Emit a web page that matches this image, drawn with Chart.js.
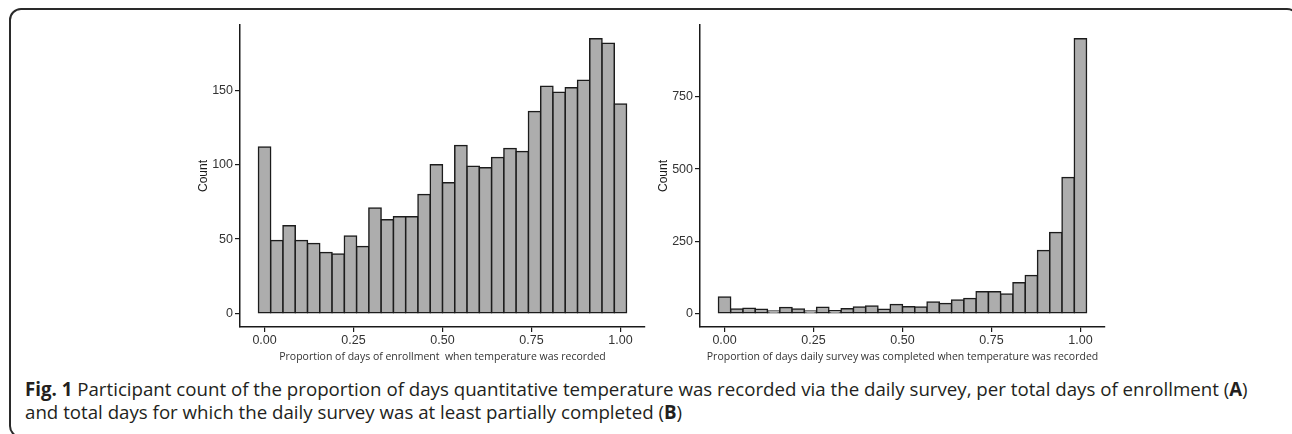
<!DOCTYPE html>
<html>
<head>
<meta charset="utf-8">
<script src="https://cdn.jsdelivr.net/npm/chart.js@4.4.1/dist/chart.umd.min.js"></script>
<style>
  html, body { margin: 0; padding: 0; background: #fff; }
  body { width: 1292px; height: 434px; position: relative; overflow: hidden; }
  .frame {
    position: absolute; left: 9px; top: 8px; width: 1286px; height: 426px;
    border: 2px solid #2a2a2a; border-radius: 12px;
  }
  canvas { position: absolute; top: 0; }
  #chartA { left: 190px; }
  #chartB { left: 650px; }
  .caption {
    position: absolute; left: 25px; top: 377px; width: 1262px;
    font-family: "Open Sans", sans-serif; font-size: 18.7px; line-height: 23px;
    color: #231f20; white-space: nowrap;
  }
  .caption b { font-weight: 700; }
</style>
</head>
<body>
<div class="frame"></div>
<canvas id="chartA" width="470" height="372"></canvas>
<canvas id="chartB" width="470" height="372"></canvas>
<div class="caption">
  <b>Fig. 1</b> Participant count of the proportion of days quantitative temperature was recorded via the daily survey, per total days of enrollment (<b>A</b>)<br>
  and total days for which the daily survey was at least partially completed (<b>B</b>)
</div>
<script>
// bin centres (30 bins, ggplot default) shared by both panels
const binCenters = [
  0.0000, 0.0345, 0.0690, 0.1034, 0.1379, 0.1724, 0.2069, 0.2414, 0.2759, 0.3103,
  0.3448, 0.3793, 0.4138, 0.4483, 0.4828, 0.5172, 0.5517, 0.5862, 0.6207, 0.6552,
  0.6897, 0.7241, 0.7586, 0.7931, 0.8276, 0.8621, 0.8966, 0.9310, 0.9655, 1.0000
];

// panel A: proportion of days of enrollment
const countsA = [
  112, 49, 59, 49, 47, 41, 40, 52, 45, 71,
  63, 65, 65, 80, 100, 88, 113, 99, 98, 105,
  111, 109, 136, 153, 149, 152, 157, 185, 182, 141
];

// panel B: proportion of days daily survey was completed
const countsB = [
  56, 15, 17, 14, 8, 20, 15, 8, 21, 9,
  16, 22, 25, 14, 30, 23, 22, 39, 34, 46,
  51, 75, 75, 67, 106, 131, 218, 280, 471, 952
];

const xTicks = [0, 0.25, 0.5, 0.75, 1];
const yTicksA = [0, 50, 100, 150];
const yTicksB = [0, 250, 500, 750];

const titleA = 'Proportion of days of enrollment  when temperature was recorded';
const titleB = 'Proportion of days daily survey was completed when temperature was recorded';

const tickFont = { family: '"Liberation Sans", Arial, sans-serif', size: 12.5 };
const axisColor = '#1a1a1a';

function makeHistogram(canvasId, counts, yMax, yTicks, xTitle) {
    const ctx = document.getElementById(canvasId).getContext('2d');
    return new Chart(ctx, {
        type: 'bar',
        data: {
            datasets: [{
                data: binCenters.map((x, i) => ({ x: x, y: counts[i] })),
                backgroundColor: '#adadad',
                borderColor: '#1c1c1c',
                borderWidth: 1.5,
                borderSkipped: false,
                inflateAmount: 0.75,
                barPercentage: 1,
                categoryPercentage: 1
            }]
        },
        options: {
            responsive: false,
            animation: false,
            layout: { padding: { left: 6, top: 25, right: 15, bottom: 9 } },
            plugins: {
                legend: { display: false },
                tooltip: { enabled: false }
            },
            scales: {
                x: {
                    type: 'linear',
                    offset: false,
                    min: -0.069,
                    max: 1.069,
                    afterBuildTicks: function (s) { s.ticks = xTicks.map(v => ({ value: v })); },
                    afterFit: function (s) { s.height = 36; },
                    grid: { display: true, drawOnChartArea: false, offset: false, tickLength: 5, color: axisColor, lineWidth: 1.2 },
                    border: { display: true, color: axisColor, width: 1.5 },
                    ticks: {
                        callback: function (v) { return (+v).toFixed(2); },
                        font: tickFont,
                        color: '#333',
                        padding: 1,
                        maxRotation: 0,
                        autoSkip: false
                    },
                    title: {
                        display: true,
                        text: xTitle,
                        font: { family: '"Open Sans", sans-serif', size: 10.5 },
                        color: '#333',
                        padding: 0
                    }
                },
                y: {
                    min: -0.05 * yMax,
                    max: 1.05 * yMax,
                    afterBuildTicks: function (s) { s.ticks = yTicks.map(v => ({ value: v })); },
                    afterFit: function (s) { s.width = 44; },
                    grid: { display: true, drawOnChartArea: false, tickLength: 5, color: axisColor, lineWidth: 1.2 },
                    border: { display: true, color: axisColor, width: 1.5 },
                    ticks: {
                        callback: function (v) { return String(v); },
                        font: tickFont,
                        color: '#333',
                        padding: 2
                    },
                    title: {
                        display: true,
                        text: 'Count',
                        font: { family: '"Liberation Sans", Arial, sans-serif', size: 12 },
                        color: '#1a1a1a',
                        padding: 0
                    }
                }
            }
        }
    });
}

makeHistogram('chartA', countsA, 185, yTicksA, titleA);
makeHistogram('chartB', countsB, 952, yTicksB, titleB);
</script>
</body>
</html>
